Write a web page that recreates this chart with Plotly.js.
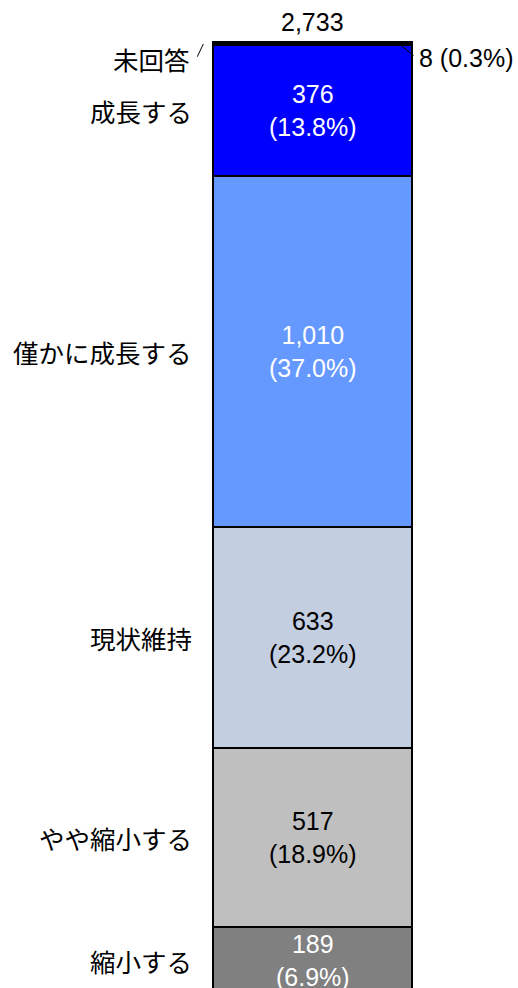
<!DOCTYPE html>
<html>
<head>
<meta charset="utf-8">
<script src="https://cdn.plot.ly/plotly-3.0.1.min.js"></script>
<style>html,body{margin:0;padding:0;background:#fff;}#chart{width:518px;height:988px;}</style>
</head>
<body>
<div id="chart"></div>
<script>
const categories = ['縮小する', 'やや縮小する', '現状維持', '僅かに成長する', '成長する', '未回答'];
const values = [189, 517, 633, 1010, 376, 8];
const percents = ['6.9%', '18.9%', '23.2%', '37.0%', '13.8%', '0.3%'];
const total = 2733;
const colors = ['#808080', '#BFBFBF', '#C3CEE0', '#6699FF', '#0000FF', '#000000'];
const textColors = ['#FFFFFF', '#000000', '#000000', '#FFFFFF', '#FFFFFF', '#000000'];

const W = 518, H = 988, MT = 40;
const yRange = [14.9, 2740];
const xRange = [-1.572, 1.031];
const plotH = H - MT;
// pixel -> data helpers (for decorative leader lines only)
const px2x = p => xRange[0] + p / W * (xRange[1] - xRange[0]);
const py2y = p => yRange[1] - (p - MT) / plotH * (yRange[1] - yRange[0]);

const latin = 'Liberation Sans, Arial, Noto Sans CJK JP, sans-serif';
const cjk = 'Noto Sans CJK JP, Liberation Sans, sans-serif';

const traces = categories.map((c, i) => ({
  type: 'bar',
  x: [0],
  y: [values[i]],
  name: c,
  width: 1,
  marker: { color: colors[i], line: { color: '#000000', width: 2 } },
  hoverinfo: 'none'
}));

const annotations = [];
let cum = 0;
values.forEach((v, i) => {
  const mid = cum + v / 2;
  cum += v;
  if (i < values.length - 1) {
    annotations.push({
      x: 0, y: mid, xref: 'x', yref: 'y', showarrow: false,
      text: v.toLocaleString('en-US') + '<br>(' + percents[i] + ')',
      font: { family: latin, size: 25, color: textColors[i] },
      xanchor: 'center', yanchor: 'middle'
    });
    annotations.push({
      x: px2x(194), y: mid, xref: 'x', yref: 'y', showarrow: false,
      text: categories[i],
      font: { family: cjk, size: 25.5, color: '#000000' },
      xanchor: 'right', yanchor: 'middle'
    });
  } else {
    annotations.push({
      x: px2x(192), y: py2y(58), xref: 'x', yref: 'y', showarrow: false,
      text: categories[i],
      font: { family: cjk, size: 25.5, color: '#000000' },
      xanchor: 'right', yanchor: 'middle'
    });
    annotations.push({
      x: px2x(417), y: py2y(58), xref: 'x', yref: 'y', showarrow: false,
      text: v.toLocaleString('en-US') + ' (' + percents[i] + ')',
      font: { family: latin, size: 25, color: '#000000' },
      xanchor: 'left', yanchor: 'middle'
    });
  }
});
annotations.push({
  x: 0, y: total, xref: 'x', yref: 'y', showarrow: false,
  text: total.toLocaleString('en-US'),
  font: { family: latin, size: 25, color: '#000000' },
  xanchor: 'center', yanchor: 'bottom', yshift: 4
});

const shapes = [
  { type: 'line', xref: 'x', yref: 'y', x0: px2x(197.3), y0: py2y(56.7), x1: px2x(203.3), y1: py2y(44), line: { color: '#000', width: 1 } },
  { type: 'line', xref: 'x', yref: 'y', x0: px2x(398.3), y0: py2y(43.3), x1: px2x(413.5), y1: py2y(55.5), line: { color: '#000', width: 1 } }
];

const layout = {
  width: W, height: H,
  margin: { l: 0, r: 0, t: MT, b: 0, pad: 0 },
  barmode: 'stack',
  showlegend: false,
  paper_bgcolor: '#FFFFFF', plot_bgcolor: '#FFFFFF',
  xaxis: { range: xRange, visible: false, fixedrange: true },
  yaxis: { range: yRange, visible: false, fixedrange: true },
  annotations: annotations,
  shapes: shapes
};

Plotly.newPlot('chart', traces, layout, { staticPlot: true, displayModeBar: false });
</script>
</body>
</html>
